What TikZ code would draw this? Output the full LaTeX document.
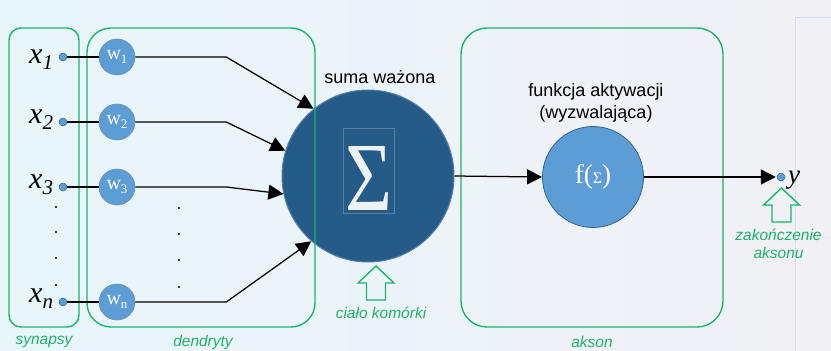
\documentclass[tikz,border=0pt]{standalone}
\usepackage{fontspec}
\usepackage{graphicx}
\setmainfont{Liberation Serif}
\newfontfamily\arialfont{Liberation Sans}
\usetikzlibrary{arrows.meta}

\definecolor{boxgreen}{RGB}{22,184,106}
\definecolor{labgreen}{RGB}{30,178,104}
\definecolor{bodyblue}{RGB}{36,91,135}
\definecolor{bodyrim}{RGB}{88,128,165}
\definecolor{cellblue}{RGB}{93,157,213}
\definecolor{cellrim}{RGB}{52,98,140}
\definecolor{bgleft}{RGB}{232,246,250}
\definecolor{bgright}{RGB}{241,240,245}
\definecolor{faintline}{RGB}{214,224,240}

\newcommand\inputlabel[1]{{\fontsize{30}{30}\selectfont\itshape x}\raisebox{-6pt}{\fontsize{21}{21}\selectfont\itshape #1}}
\newcommand\weightlabel[1]{w\raisebox{-4pt}{\fontsize{13}{13}\selectfont #1}}

\begin{document}
\begin{tikzpicture}[x=1pt,y=-1pt,
  region/.style={draw=boxgreen, line width=1.4pt, inner sep=0pt},
  regionlabel/.style={text=labgreen, font=\arialfont\itshape\fontsize{15.5}{17}\selectfont, inner sep=0pt},
  heading/.style={font=\arialfont\fontsize{18}{21}\selectfont, inner sep=0pt, anchor=base},
  port/.style={circle, fill=cellblue, draw=cellrim, line width=0.5pt, minimum size=8pt, inner sep=0pt},
  weight/.style={circle, fill=cellblue, draw=cellrim!70, line width=0.6pt, minimum size=36pt, inner sep=0pt, text=white, font=\fontsize{20}{20}\selectfont},
  inlab/.style={anchor=base west, inner sep=0pt},
  wire/.style={line width=1.25pt, black},
  feed/.style={wire, -{Triangle[length=15pt,width=15pt]}},
  hollow/.style={draw=boxgreen, line width=1.4pt, line join=miter},
  vdot/.style={circle, fill=black, minimum size=2.2pt, inner sep=0pt},
  uparrow/.pic={\draw[hollow] (-9.5,34) -- (-9.5,17) -- (-18,17) -- (0,0) -- (18,17) -- (9.5,17) -- (9.5,34) -- cycle;}
]
\useasboundingbox (0,0) rectangle (831,351);
\fill[left color=bgleft, right color=bgright] (0,0) rectangle (831,351);
\draw[faintline, line width=0.8pt] (831,17) -- (795,17) -- (795,351);

% cell body (weighted sum)
\node[circle, fill=bodyblue, draw=bodyrim, line width=1pt, minimum size=172pt, inner sep=0pt] (sum) at (368,176) {};
\node[draw=bodyrim, line width=0.8pt, minimum width=51pt, minimum height=85pt, inner sep=0pt] (sigbox) at (368.5,170.5) {};
\node[text=white!92!bodyblue, inner sep=0pt] (sigma) at (368.5,178) {\resizebox{47pt}{64pt}{Σ}};
\node[heading] (sumtitle) at (380,83) {suma ważona};

% regions
\node[region, rounded corners=12pt, minimum width=70pt, minimum height=299pt] (syn) at (44,177.5) {};
\node[region, rounded corners=24pt, minimum width=228pt, minimum height=299pt] (den) at (201,177.5) {};
\node[region, rounded corners=26pt, minimum width=262pt, minimum height=299pt] (akson) at (592,177.5) {};
\node[regionlabel] (synlab) at (44,342) {synapsy};
\node[regionlabel] (denlab) at (203,342) {dendryty};
\node[regionlabel] (akslab) at (592,342) {akson};

% inputs
\node[inlab] (x1) at (29,63) {\inputlabel{1}};
\node[inlab] (x2) at (29,123) {\inputlabel{2}};
\node[inlab] (x3) at (29,188) {\inputlabel{3}};
\node[inlab] (xn) at (29,302) {\inputlabel{n}};
\node[port] (p1) at (63,57) {};
\node[port] (p2) at (63,122) {};
\node[port] (p3) at (63,187) {};
\node[port] (pn) at (63,302) {};

\foreach \yy [count=\i] in {207,232,258,285} \node[vdot] (ld\i) at (56,\yy) {};
\foreach \yy [count=\i] in {208,234,260,287} \node[vdot] (rd\i) at (179,\yy) {};

% weights
\node[weight] (w1) at (117,57) {\weightlabel{1}};
\node[weight] (w2) at (117,122) {\weightlabel{2}};
\node[weight] (w3) at (117,187) {\weightlabel{3}};
\node[weight] (wn) at (117,302) {\weightlabel{n}};

\draw[wire] (p1) -- (w1);
\draw[wire] (p2) -- (w2);
\draw[wire] (p3) -- (w3);
\draw[wire] (pn) -- (wn);

\draw[feed] (w1.east) -- ++(91,0) -- (sum.129.5);
\draw[feed] (w2.east) -- ++(91,0) -- (sum.163);
\draw[feed] (w3.east) -- ++(91,0) -- (sum.192.5);
\draw[feed] (wn.east) -- ++(91,0) -- (sum.229);

% activation
\node[heading] (acttitle1) at (596,96) {funkcja aktywacji};
\node[heading] (acttitle2) at (596,118) {(wyzwalająca)};
\node[circle, fill=cellblue, draw=cellrim, line width=0.8pt, minimum size=101pt, inner sep=0pt, text=white] (act) at (593,177)
  {\fontsize{27}{27}\selectfont f(\fontsize{16}{16}\selectfont Σ\fontsize{27}{27}\selectfont)};
\draw[feed] (sum.east) -- (act.west);

% output
\node[port] (out) at (781,177) {};
\node[inlab] (ylab) at (788,183) {\fontsize{27}{27}\selectfont\itshape y};
\draw[feed, shorten >=1pt] (act.east) -- (out.west);

% pointers
\pic at (376,266) {uparrow};
\node[regionlabel] (bodylab) at (381,313) {ciało komórki};
\pic at (781.5,188) {uparrow};
\node[regionlabel] (endlab1) at (778.5,235) {zakończenie};
\node[regionlabel] (endlab2) at (778.5,253) {aksonu};
\end{tikzpicture}
\end{document}
